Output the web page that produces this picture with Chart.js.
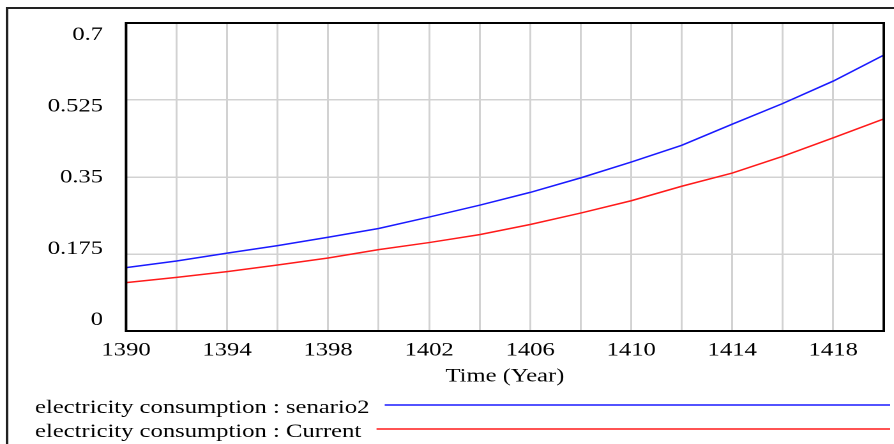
<!DOCTYPE html>
<html>
<head>
<meta charset="utf-8">
<script src="https://cdn.jsdelivr.net/npm/chart.js@4/dist/chart.umd.min.js"></script>
<style>
  html, body { margin: 0; padding: 0; background: #ffffff; overflow: hidden; }
  #wrap { position: absolute; left: 0; top: 0; width: 700px; height: 444px;
          transform: scaleX(1.2771); transform-origin: 0 0; }
</style>
</head>
<body>
<div id="wrap"><canvas id="c"></canvas></div>
<script>
// ---- data ----
const years = [1390, 1392, 1394, 1396, 1398, 1400, 1402, 1404, 1406, 1408, 1410, 1412, 1414, 1416, 1418, 1420];
const senario2 = [0.144, 0.159, 0.177, 0.194, 0.213, 0.233, 0.259, 0.286, 0.315, 0.348, 0.384, 0.422, 0.470, 0.517, 0.568, 0.627];
const current  = [0.110, 0.122, 0.135, 0.150, 0.166, 0.185, 0.201, 0.219, 0.242, 0.268, 0.296, 0.329, 0.359, 0.397, 0.439, 0.482];
const seriesLabels = ['electricity consumption : senario2', 'electricity consumption : Current'];
const yTickValues = [0, 0.175, 0.35, 0.525, 0.7];
const xTickLabels = [1390, 1394, 1398, 1402, 1406, 1410, 1414, 1418];
const xTitle = 'Time (Year)';

const FONT = { family: '"Liberation Serif", "Times New Roman", serif', size: 19.3 };
const GRID = '#d2d2d2';

const framePlugin = {
  id: 'frame',
  beforeDraw(chart) {
    const ctx = chart.ctx;
    ctx.save();
    ctx.strokeStyle = '#222';
    ctx.lineWidth = 2;
    ctx.beginPath();
    ctx.moveTo(5.5, 460);
    ctx.lineTo(5.5, 8);
    ctx.lineTo(720, 8);
    ctx.stroke();
    ctx.restore();
  },
  afterDatasetsDraw(chart) {
    const a = chart.chartArea, ctx = chart.ctx;
    ctx.save();
    ctx.strokeStyle = '#000';
    ctx.lineWidth = 2;
    ctx.strokeRect(a.left, a.top, a.right - a.left, a.bottom - a.top);
    ctx.restore();
  }
};

const legendPlugin = {
  id: 'vensimLegend',
  afterDraw(chart) {
    const ctx = chart.ctx;
    ctx.save();
    ctx.font = FONT.size + 'px ' + FONT.family;
    ctx.textBaseline = 'middle';
    ctx.textAlign = 'left';
    const rows = [408, 432];
    chart.data.datasets.forEach((ds, i) => {
      const y = rows[i];
      ctx.fillStyle = '#000';
      ctx.fillText(ds.label, 27.4, y);
      const w = ctx.measureText(ds.label).width;
      ctx.strokeStyle = ds.borderColor;
      ctx.lineWidth = 1.4;
      ctx.beginPath();
      ctx.moveTo(27.4 + w + 12, y - 3);
      ctx.lineTo(697, y - 3);
      ctx.stroke();
    });
    ctx.restore();
  }
};

new Chart(document.getElementById('c'), {
  type: 'line',
  data: {
    datasets: [
      { label: seriesLabels[0], data: years.map((x, i) => ({ x, y: senario2[i] })),
        borderColor: '#1a1aff', borderWidth: 1.5, pointRadius: 0, tension: 0, xAxisID: 'x', yAxisID: 'y' },
      { label: seriesLabels[1], data: years.map((x, i) => ({ x, y: current[i] })),
        borderColor: '#ff1a1a', borderWidth: 1.5, pointRadius: 0, tension: 0, xAxisID: 'x', yAxisID: 'y' }
    ]
  },
  options: {
    responsive: true,
    maintainAspectRatio: false,
    devicePixelRatio: 2,
    animation: false,
    layout: { padding: { top: 23, right: 1, bottom: 56, left: 0 } },
    plugins: { legend: { display: false }, tooltip: { enabled: false } },
    scales: {
      yLab: {
        type: 'linear', position: 'left', min: -0.027, max: 0.7295,
        grid: { display: false }, border: { display: false },
        afterBuildTicks: s => { s.ticks = yTickValues.map(v => ({ value: v })); },
        afterFit: s => { s.width = 98.7; },
        ticks: { font: FONT, color: '#000', padding: 10,
                 callback: v => String(parseFloat(v.toFixed(3))) }
      },
      y: {
        type: 'linear', position: 'left', min: 0, max: 0.7,
        afterBuildTicks: s => { s.ticks = yTickValues.map(v => ({ value: v })); },
        afterFit: s => { s.width = 0; },
        grid: { color: GRID, lineWidth: 1.5, drawTicks: false },
        border: { display: false },
        ticks: { display: false }
      },
      x: {
        type: 'linear', position: 'bottom', min: 1390, max: 1420,
        afterFit: s => { s.height = 57; },
        grid: { color: GRID, lineWidth: 1.5, drawTicks: false },
        border: { display: false },
        ticks: { stepSize: 2, autoSkip: false, maxRotation: 0, font: FONT, color: '#000', padding: 8,
                 callback: v => xTickLabels.includes(v) ? String(v) : '' },
        title: { display: true, text: xTitle, font: FONT, color: '#000', padding: { top: 0, bottom: 0 } }
      }
    }
  },
  plugins: [framePlugin, legendPlugin]
});
</script>
</body>
</html>
